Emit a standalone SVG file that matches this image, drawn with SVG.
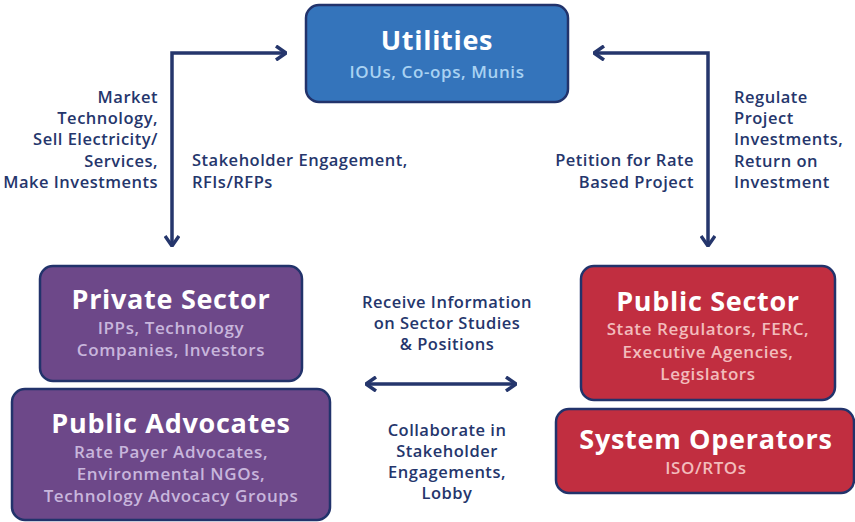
<svg xmlns="http://www.w3.org/2000/svg" width="855" height="522" viewBox="0 0 855 522">
<defs>
<style>
.box{stroke:#22336b;stroke-width:2.5}
.blue{fill:#3474bb}
.purple{fill:#6d4889}
.red{fill:#c12e40}
.title{font-family:"Open Sans",Lato,sans-serif;font-weight:700;font-size:27px;letter-spacing:0.7px;fill:#ffffff;text-anchor:middle}
.sub{font-family:"Open Sans",Lato,sans-serif;font-weight:600;font-size:17px;letter-spacing:0.6px;text-anchor:middle}
.subb{fill:#a9d2f2}
.subp{fill:#c8b6dc}
.subr{fill:#f2bcbc}
.lbl{font-family:"Open Sans",Lato,sans-serif;font-weight:600;font-size:16.5px;letter-spacing:0.5px;fill:#25366c}
.conn{fill:none;stroke:#25366c;stroke-width:3.5}
</style>
<marker id="ah" viewBox="0 0 12 16" refX="11" refY="8" markerWidth="12" markerHeight="16" markerUnits="userSpaceOnUse" orient="auto-start-reverse">
<path d="M1,1 L11,8 L1,15" fill="none" stroke="#25366c" stroke-width="3.5"/>
</marker>
</defs>
<rect width="855" height="522" fill="#ffffff"/>
<g id="connectors">
<path class="conn" d="M286,53 H172 V246" marker-start="url(#ah)" marker-end="url(#ah)"/>
<path class="conn" d="M594,53 H708 V246" marker-start="url(#ah)" marker-end="url(#ah)"/>
<path class="conn" d="M366,384 H516" marker-start="url(#ah)" marker-end="url(#ah)"/>
</g>
<g id="utilities">
<rect class="box blue" x="306" y="5" width="262" height="97" rx="13"/>
<text class="title" x="437" y="50">Utilities</text>
<text class="sub subb" x="437" y="78">IOUs, Co-ops, Munis</text>
</g>
<g id="private-sector">
<rect class="box purple" x="40" y="266" width="262" height="115" rx="13"/>
<text class="title" x="171" y="309">Private Sector</text>
<text class="sub subp" x="171" y="334">IPPs, Technology</text>
<text class="sub subp" x="171" y="356">Companies, Investors</text>
</g>
<g id="public-advocates">
<rect class="box purple" x="12" y="389" width="318" height="131" rx="13"/>
<text class="title" x="171" y="433">Public Advocates</text>
<text class="sub subp" x="171" y="458">Rate Payer Advocates,</text>
<text class="sub subp" x="171" y="480">Environmental NGOs,</text>
<text class="sub subp" x="171" y="502">Technology Advocacy Groups</text>
</g>
<g id="public-sector">
<rect class="box red" x="581" y="266" width="254" height="134" rx="13"/>
<text class="title" x="708" y="311">Public Sector</text>
<text class="sub subr" x="708" y="335">State Regulators, FERC,</text>
<text class="sub subr" x="708" y="358">Executive Agencies,</text>
<text class="sub subr" x="708" y="380">Legislators</text>
</g>
<g id="system-operators">
<rect class="box red" x="556" y="409" width="298" height="84" rx="13"/>
<text class="title" x="706" y="449">System Operators</text>
<text class="sub subr" x="706" y="474">ISO/RTOs</text>
</g>
<g id="labels">
<text class="lbl" text-anchor="end" x="158"><tspan x="158" y="103">Market</tspan><tspan x="158" y="124">Technology,</tspan><tspan x="158" y="145">Sell Electricity/</tspan><tspan x="158" y="167">Services,</tspan><tspan x="158" y="188">Make Investments</tspan></text>
<text class="lbl" x="192"><tspan x="192" y="166">Stakeholder Engagement,</tspan><tspan x="192" y="188">RFIs/RFPs</tspan></text>
<text class="lbl" text-anchor="end" x="694"><tspan x="694" y="166">Petition for Rate</tspan><tspan x="694" y="188">Based Project</tspan></text>
<text class="lbl" x="734"><tspan x="734" y="103">Regulate</tspan><tspan x="734" y="124">Project</tspan><tspan x="734" y="145">Investments,</tspan><tspan x="734" y="167">Return on</tspan><tspan x="734" y="188">Investment</tspan></text>
<text class="lbl" text-anchor="middle" x="447"><tspan x="447" y="308">Receive Information</tspan><tspan x="447" y="329">on Sector Studies</tspan><tspan x="447" y="350">&amp; Positions</tspan></text>
<text class="lbl" text-anchor="middle" x="447"><tspan x="447" y="436">Collaborate in</tspan><tspan x="447" y="457">Stakeholder</tspan><tspan x="447" y="478">Engagements,</tspan><tspan x="447" y="499">Lobby</tspan></text>
</g>
</svg>
